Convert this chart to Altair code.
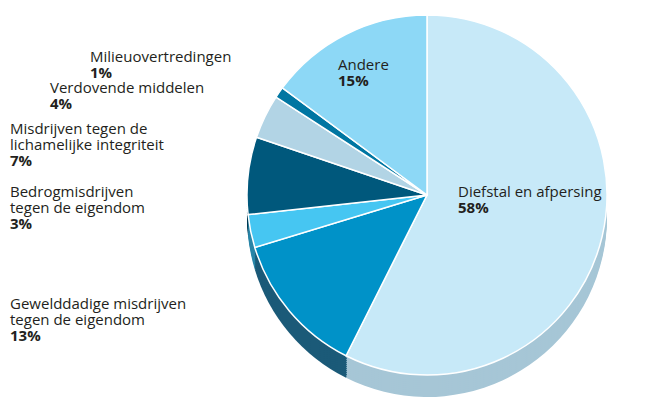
import altair as alt
import pandas as pd

# ---- data ----
categories = [
    "Diefstal en afpersing",
    "Gewelddadige misdrijven tegen de eigendom",
    "Bedrogmisdrijven tegen de eigendom",
    "Misdrijven tegen de lichamelijke integriteit",
    "Verdovende middelen",
    "Milieuovertredingen",
    "Andere",
]
shares = [58, 13, 3, 7, 4, 1, 15]
label_names = [
    ["Diefstal en afpersing"],
    ["Gewelddadige misdrijven", "tegen de eigendom"],
    ["Bedrogmisdrijven", "tegen de eigendom"],
    ["Misdrijven tegen de", "lichamelijke integriteit"],
    ["Verdovende middelen"],
    ["Milieuovertredingen"],
    ["Andere"],
]
label_pcts = ["58%", "13%", "3%", "7%", "4%", "1%", "15%"]

# ---- styling / layout ----
top_colors = ["#c7e9f8", "#0092c8", "#46c6f2", "#00587c", "#b2d4e5", "#0076a2", "#8dd8f6"]
side_colors = ["#a6c6d6", "#1b5a78", "#2a86a8", "#003a52", "#7d9fb0", "#004d6b", "#5ea8c6"]
label_x = [450, 2, 2, 2, 42, 82, 330]
label_y = [189, 301, 189, 126, 85, 54, 62]

CX, CY, R, DEPTH = 419, 187, 180, 22
FONT = "Open Sans"
LH = 16

df = pd.DataFrame({"cat": categories, "share": shares, "order": list(range(len(shares)))})

rows = []
for i, lines in enumerate(label_names):
    for j, t in enumerate(lines + [label_pcts[i]]):
        rows.append({"t": t, "lx": label_x[i], "line": j, "ly": label_y[i],
                     "bold": j == len(lines)})
lab = pd.DataFrame(rows)


def pie(dy, colors, stroke=None, sw=0):
    kw = dict(radius=R)
    if stroke:
        kw.update(stroke=stroke, strokeWidth=sw)
    return alt.Chart(df).mark_arc(**kw).encode(
        theta=alt.Theta("share:Q", stack=True),
        order=alt.Order("order:Q"),
        color=alt.Color("cat:N", scale=alt.Scale(domain=categories, range=colors), legend=None),
        x=alt.value(CX),
        y=alt.value(CY + dy),
    )


side = alt.layer(*[pie(d, side_colors) for d in range(DEPTH, 0, -2)])
top = pie(0, top_colors, stroke="white", sw=1.5)


def texts(bold):
    return alt.Chart(lab).transform_filter(
        "datum.bold" if bold else "!datum.bold"
    ).transform_calculate(py="datum.ly + datum.line * " + str(LH)).mark_text(
        align="left", baseline="alphabetic", font=FONT, fontSize=15,
        fontWeight="bold" if bold else "normal", color="#231f20",
    ).encode(
        x=alt.X("lx:Q", scale=None), y=alt.Y("py:Q", scale=None), text="t:N"
    )


chart = alt.layer(side, top, texts(False), texts(True)).resolve_scale(
    color="independent"
).properties(
    width=655, height=394, autosize="none", padding=0
).configure_view(stroke=None)

chart.save("out.html", embed_options={"renderer": "svg", "actions": False})
